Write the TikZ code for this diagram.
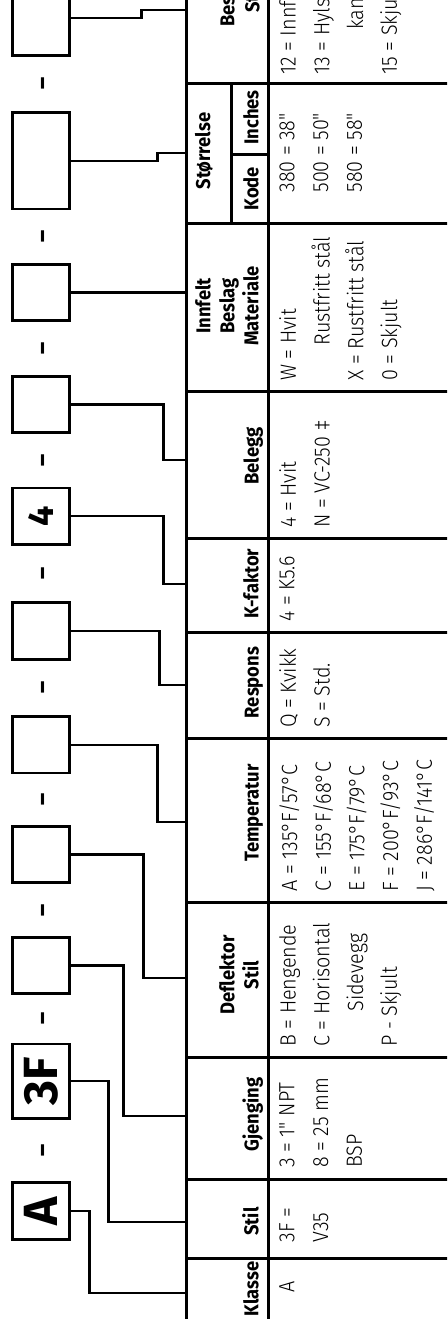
\documentclass[tikz,border=0pt]{standalone}
\usepackage{fontspec}
\setmainfont{Fira Sans}
\newfontfamily\valfont{Fira Sans Light}[FakeStretch=0.9]
\newfontfamily\hdrfont{Fira Sans}[FakeStretch=0.92]
\usetikzlibrary{positioning}
\begin{document}
\begin{tikzpicture}[x=0.5pt,y=-0.5pt,
  codebox/.style={draw,line width=1.35pt,minimum width=28.7pt,minimum height=28.2pt,inner sep=0pt,font=\bfseries\fontsize{24}{24}\selectfont},
  link/.style={line width=1.2pt},
  grid/.style={line width=1.5pt},
  hdr/.style={rotate=90,anchor=south,inner sep=0pt,align=center,font=\hdrfont\bfseries\fontsize{10}{12}\selectfont},
  val/.style={rotate=90,anchor=north west,inner sep=0pt,align=left,font=\valfont\fontsize{11}{16.85}\selectfont},
  sep/.style={rotate=90,anchor=north,inner sep=0pt,font=\fontsize{20}{20}\selectfont}]
\useasboundingbox (0,0) rectangle (447,1319);
\fill[white] (0,0) rectangle (447,1319);
% table
\begin{scope}
\clip (0,0) rectangle (447,1319);
\draw[grid] (186,-10) -- (186,1330);
\draw[grid] (268,-10) -- (268,1330);
\foreach \r in {83,223,391,538,632,738,902,1057,1179,1258}
  \draw[grid] (186,\r) -- (460,\r);
\draw[grid] (231,83) -- (231,223);
\draw[grid] (231,154) -- (268,154);
\end{scope}
\coordinate (cBes) at (186,10);
\coordinate (cSize) at (186,153);
\coordinate (cMat) at (186,312);
\coordinate (cCoat) at (186,460);
\coordinate (cK) at (186,584);
\coordinate (cResp) at (186,685);
\coordinate (cTemp) at (186,822);
\coordinate (cDefl) at (186,978);
\coordinate (cThread) at (186,1116);
\coordinate (cStyle) at (186,1222);
\coordinate (cClass) at (186,1293);
% code boxes
\node[codebox] (bClass) at (41,1211) {\rotatebox{90}{A}};
\node[codebox,minimum height=37.2pt,above=30.85pt of bClass] (bStyle) {\rotatebox{90}{3F}};
\node[codebox,above=23.85pt of bStyle] (bThread) {};
\node[codebox,above=25.85pt of bThread] (bDefl) {};
\node[codebox,above=25.35pt of bDefl] (bTemp) {};
\node[codebox,above=27.35pt of bTemp] (bResp) {};
\node[codebox,above=27.85pt of bResp,font=\bfseries\fontsize{18}{18}\selectfont] (bK) {\rotatebox{90}{4}};
\node[codebox,above=26.35pt of bK] (bCoat) {};
\node[codebox,above=26.35pt of bCoat] (bMat) {};
\node[codebox,minimum height=48.2pt,above=26.35pt of bMat] (bSize) {};
\node[codebox,minimum height=37.2pt,above=27.35pt of bSize] (bTop) {};
\foreach \a/\b in {bClass/bStyle,bStyle/bThread,bThread/bDefl,bDefl/bTemp,bTemp/bResp,bResp/bK,bK/bCoat,bCoat/bMat,bMat/bSize,bSize/bTop}
  \path (\a.north) -- (\b.south) node[sep,midway] (s\a) {-};
\foreach \b/\d/\c in {bTop/70.3/cBes,bSize/86.3/cSize,bCoat/92.3/cCoat,bK/92.3/cK,bResp/88.3/cResp,bTemp/86.3/cTemp,bDefl/72.3/cDefl,bThread/52.3/cThread,bStyle/37.3/cStyle,bClass/18.3/cClass}
  \draw[link] (\b.east) -- ++(\d,0) |- (\c);
\draw[link] (bMat.east) -- (bMat.east -| cMat);
% headers
\node[hdr] (hClass) at (259,1289) {Klasse};
\node[hdr] (hStyle) at (259,1221.5) {Stil};
\node[hdr] (hThread) at (263.5,1114.5) {Gjenging};
\node[hdr] (hDefl) at (259,975) {Deflektor\\Stil};
\node[hdr] (hTemp) at (263.5,813) {Temperatur};
\node[hdr] (hResp) at (263.5,682.5) {Respons};
\node[hdr] (hK) at (259,583.5) {K-faktor};
\node[hdr] (hCoat) at (263.5,456) {Belegg};
\node[hdr] (hMat) at (259,306) {Innfelt\\Beslag\\Materiale};
\node[hdr,anchor=center] (hSize) at (204,151) {Størrelse};
\node[hdr,anchor=center] (hInch) at (251,117.5) {Inches};
\node[hdr,anchor=center] (hCode) at (251,188.5) {Kode};
\node[hdr,anchor=south west] (hBes) at (235,27) {Bes};
\node[hdr,anchor=south west] (hSt) at (260,13) {St};
% values
\node[val] (vClass) at (279,1293) {A};
\node[val] (vStyle) at (279,1243) {3F =\\V35};
\node[val] (vThread) at (279,1168) {3 = 1" NPT\\8 = 25 mm\\BSP};
\node[val] (vDefl) at (279,1047) {B = Hengende\\C = Horisontal\\\hspace*{17.5pt}Sidevegg\\P - Skjult};
\node[val] (vTemp) at (279,892) {A = 135°F/57°C\\C = 155°F/68°C\\E = 175°F/79°C\\F = 200°F/93°C\\J = 286°F/141°C};
\node[val] (vResp) at (279,728) {Q = Kvikk\\S = Std.};
\node[val] (vK) at (279,622) {4 = K5.6};
\node[val] (vCoat) at (279,528) {4 = Hvit\\N = VC-250 ‡};
\node[val] (vMat) at (279,381) {W = Hvit\\\hspace*{17.5pt}Rustfritt stål\\X = Rustfritt stål\\0 = Skjult};
\node[val] (vSize) at (279,193) {380 = 38"\\500 = 50"\\580 = 58"};
\node[val] (vBes) at (279,75) {12 = Innf\\13 = Hyls\\\hspace*{22.5pt}kan\\15 = Skju};
\end{tikzpicture}
\end{document}
